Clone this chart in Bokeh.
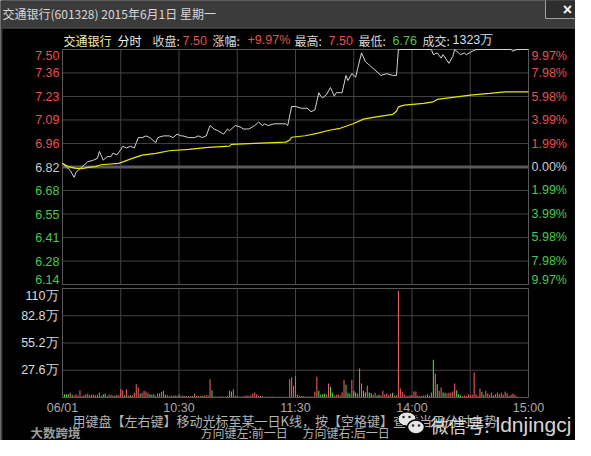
from bokeh.plotting import figure
from bokeh.models import Range1d, ColumnDataSource
from bokeh.embed import file_html
from bokeh.resources import INLINE
from bokeh.core.properties import value, field

# ---------------- data ----------------
title_text = "交通银行(601328) 2015年6月1日 星期一"
stock_name = "交通银行"
prev_close = 6.82
close_price = "7.50"
change_pct = "+9.97%"
high_price = "7.50"
low_price = "6.76"
turnover = "1323万"

# minute index (0 = 09:30, 120 = 11:30/13:00, 240 = 15:00) and price
price_minutes = [0, 2, 4, 6, 7, 9, 11, 13, 16, 18, 19, 21, 23, 25, 26, 28, 30, 31, 33, 35,
                 37, 38, 39, 41, 43, 45, 48, 49, 52, 55, 57, 59, 61, 62, 65, 68, 70, 72, 74, 76,
                 78, 80, 83, 85, 86, 89, 92, 93, 96, 99, 101, 103, 104, 106, 109, 111, 115, 116, 118, 120,
                 123, 126, 128, 130, 132, 133, 134, 136, 138, 140, 141, 144, 146, 147, 149, 151, 152, 154, 156, 158,
                 159, 162, 164, 167, 170, 172, 173, 190, 191, 193, 195, 196, 199, 201, 202, 203, 205, 207, 208, 211,
                 213, 231, 232, 234, 240]
price_values = [6.84, 6.82, 6.80, 6.76, 6.79, 6.81, 6.83, 6.85, 6.86, 6.87, 6.91, 6.86, 6.88, 6.88, 6.90, 6.89, 6.92, 6.94, 6.93, 6.94,
                6.93, 6.96, 6.99, 6.99, 7.00, 6.99, 6.96, 6.99, 7.00, 7.00, 6.99, 7.01, 7.00, 7.00, 6.99, 6.99, 7.00, 6.99, 7.00, 7.06,
                7.04, 7.03, 7.01, 7.04, 7.03, 7.06, 7.05, 7.04, 7.04, 7.06, 7.08, 7.06, 7.07, 7.06, 7.07, 7.07, 7.07, 7.06, 7.17, 7.17,
                7.16, 7.16, 7.14, 7.15, 7.25, 7.23, 7.22, 7.24, 7.28, 7.23, 7.25, 7.25, 7.35, 7.32, 7.36, 7.34, 7.39, 7.48, 7.43, 7.41,
                7.40, 7.37, 7.35, 7.36, 7.35, 7.35, 7.50, 7.50, 7.47, 7.48, 7.45, 7.47, 7.42, 7.46, 7.50, 7.49, 7.47, 7.48, 7.47, 7.49,
                7.50, 7.50, 7.49, 7.50, 7.50]

avg_minutes = [0, 3, 7, 10, 13, 17, 20, 29, 36, 41, 48, 55, 65, 75, 86, 87, 99, 115, 117, 118,
               125, 131, 138, 143, 150, 155, 160, 170, 172, 173, 176, 186, 191, 193, 201, 210, 220, 228, 240]
avg_values = [6.841, 6.822, 6.812, 6.810, 6.818, 6.822, 6.833, 6.841, 6.870, 6.889, 6.899, 6.914, 6.922, 6.934, 6.941, 6.951, 6.957, 6.964, 6.976, 6.992,
              7.001, 7.015, 7.034, 7.044, 7.072, 7.097, 7.107, 7.124, 7.143, 7.168, 7.178, 7.188, 7.197, 7.211, 7.223, 7.236, 7.246, 7.255, 7.255]

# volume per minute, in 万 (one value per minute 0..240)
volume = [5.1, 3.4, 3.4, 3.4, 4.7, 2.7, 1.7, 3.4, 2.0, 7.4,
          1.4, 2.0, 3.4, 3.7, 2.4, 3.0, 2.7, 2.4, 2.7, 5.1,
          1.7, 3.4, 3.7, 1.4, 2.7, 2.7, 2.0, 1.7, 2.7, 2.4,
          8.4, 7.4, 2.4, 8.4, 1.7, 2.4, 2.0, 4.7, 13.5, 10.1,
          4.1, 4.7, 6.8, 6.1, 4.7, 3.4, 2.7, 3.4, 1.7, 4.1,
          4.4, 5.7, 6.8, 2.7, 2.4, 1.4, 2.0, 1.4, 2.4, 1.7,
          2.7, 1.4, 2.0, 1.4, 1.4, 1.4, 1.4, 1.4, 4.1, 1.4,
          1.4, 1.4, 1.4, 2.0, 2.4, 2.0, 18.6, 7.4, 1.0, 1.0,
          1.0, 1.0, 1.0, 1.0, 1.0, 1.4, 6.8, 6.1, 8.4, 1.7,
          1.4, 1.0, 1.0, 1.0, 1.7, 2.0, 1.4, 2.4, 4.1, 5.1,
          3.4, 2.0, 1.4, 1.4, 0.8, 0.8, 0.8, 0.8, 1.0, 0.8,
          0.8, 0.7, 0.7, 0.7, 0.7, 0.7, 0.7, 18.6, 20.3, 11.8,
          21.7, 2.7, 1.7, 1.4, 1.4, 1.0, 1.0, 1.0, 1.0, 1.0,
          5.7, 20.9, 6.8, 2.7, 3.4, 4.1, 3.0, 14.2, 10.8, 4.7,
          1.7, 2.7, 3.4, 2.0, 5.4, 17.9, 12.8, 4.7, 3.7, 17.6,
          6.8, 5.1, 4.1, 29.4, 14.2, 6.8, 5.1, 11.8, 5.1, 4.4,
          2.7, 4.7, 2.0, 2.7, 2.0, 6.8, 3.4, 4.1, 2.7, 4.1,
          4.7, 2.0, 2.0, 108.0, 9.1, 5.7, 3.4, 2.0, 1.4, 2.4,
          2.4, 6.1, 6.1, 2.0, 1.4, 1.4, 2.0, 2.4, 3.4, 2.0,
          5.1, 38.2, 24.3, 13.5, 6.8, 10.1, 5.1, 4.7, 4.1, 4.7,
          5.1, 6.1, 14.2, 7.4, 3.4, 2.4, 1.4, 2.0, 1.4, 3.4,
          2.4, 2.7, 25.3, 3.4, 1.7, 8.8, 5.7, 2.7, 6.8, 4.1,
          2.7, 5.1, 2.4, 3.4, 5.1, 3.4, 4.7, 2.7, 6.1, 4.4,
          1.7, 2.7, 4.1, 2.7, 1.0, 0.0, 0.0, 0.0, 0.0, 0.0,
          0.0]
green_minutes = [1, 2, 3, 5, 11, 21, 22, 27, 32, 35, 40, 45, 46, 47, 53, 57, 60, 63, 67, 71,
                 77, 82, 87, 93, 103, 108, 132, 133, 134, 135, 138, 139, 146, 147, 148, 150, 151, 155, 156, 158,
                 159, 162, 163, 170, 191, 193, 196, 197, 203, 204, 205, 216]

pct_ticks = [9.97, 7.98, 5.98, 3.99, 1.99, 0.0, -1.99, -3.99, -5.98, -7.98, -9.97]
price_tick_labels = ["7.50", "7.36", "7.23", "7.09", "6.96", "6.82", "6.68", "6.55", "6.41", "6.28", "6.14"]
pct_tick_labels = ["9.97%", "7.98%", "5.98%", "3.99%", "1.99%", "0.00%", "1.99%", "3.99%", "5.98%", "7.98%", "9.97%"]
vol_max = 110.4
vol_ticks = [110.4, 82.8, 55.2, 27.6]
vol_tick_labels = ["110万", "82.8万", "55.2万", "27.6万"]
time_ticks = [0, 60, 120, 180, 240]
time_labels = ["06/01", "10:30", "11:30", "14:00", "15:00"]
session_minutes = 240
grid_minutes = [30, 60, 90, 120, 150, 180, 210]

footer_hint = "用键盘【左右键】移动光标至某一日K线，按【空格键】查看当日分时走势"
footer_left = "方向键左:前一日"
footer_right = "方向键右:后一日"
logo_text = "大数跨境"
watermark_cn = "微信号:"
watermark_id = "ldnjingcj"

# ---------------- layout / style ----------------
W, H = 575, 440
PX_L, PX_R = 62, 528            # horizontal extent of the panels (canvas px)
PRICE_TOP, PRICE_BOT = 49, 284  # price panel (canvas px from top)
VOL_TOP, VOL_BOT = 288, 397     # volume panel
BG = "#000000"
GRID = "#444444"
FRAME = "#585858"
RED = "#e8504f"
GREEN = "#4cc84c"
GRAY = "#c8c8c8"
NUM_FONT = value("Liberation Sans")
CJK_FONT = value("Noto Sans CJK SC")

lo = prev_close * (1 - 0.0997)
hi = prev_close * (1 + 0.0997)
tick_prices = [prev_close * (1 + t / 100.0) for t in pct_ticks]
tick_colors = [RED if t > 0 else (GRAY if t == 0 else GREEN) for t in pct_ticks]
n_ticks = len(pct_ticks)
edge_off = [6 if i == 0 else (-5 if i == n_ticks - 1 else 0) for i in range(n_ticks)]

# scales: minutes on x, price on the main y, volume on an extra y, pixels for decoration
mpp = session_minutes / (PX_R - PX_L)
x_rng = Range1d(-PX_L * mpp, (W - PX_L) * mpp)
ppp = (hi - lo) / (PRICE_BOT - PRICE_TOP)
y_rng = Range1d(lo - (H - PRICE_BOT) * ppp, hi + PRICE_TOP * ppp)
vpp = vol_max / (VOL_BOT - VOL_TOP)

p = figure(width=W, height=H, x_range=x_rng, y_range=y_rng,
           x_axis_location=None, y_axis_location=None, toolbar_location=None,
           output_backend="svg", title=None, min_border=0,
           background_fill_color=BG, border_fill_color=BG, outline_line_color=None)
p.grid.visible = False
p.extra_y_ranges = {"vol": Range1d(-(H - VOL_BOT) * vpp, VOL_BOT * vpp),
                    "py": Range1d(H, 0)}
p.extra_x_ranges = {"px": Range1d(0, W)}

# ---- title bar ----
p.quad(left=[0], right=[W], top=[-1], bottom=[27], fill_color="#3b3b3b", line_color=None,
       x_range_name="px", y_range_name="py")
p.segment(x0=[0], y0=[27.5], x1=[W], y1=[27.5], line_color="#6c6c6c", line_width=1,
          x_range_name="px", y_range_name="py")
p.segment(x0=[1], y0=[28], x1=[1], y1=[H], line_color="#3a3a3a", line_width=2,
          x_range_name="px", y_range_name="py")
p.quad(left=[545], right=[589], top=[-1], bottom=[18], fill_color="#2e2e2e", line_color="#a0a0a0",
       x_range_name="px", y_range_name="py")
p.text(x=[567], y=[9], text=["×"], text_font=NUM_FONT, text_font_size="16px", text_font_style="bold",
       text_color="#ffffff", text_align="center", text_baseline="middle",
       x_range_name="px", y_range_name="py")
p.text(x=[2], y=[13], text=[title_text], text_font=CJK_FONT, text_font_size="12px",
       text_color="#d8d8d8", text_baseline="middle", x_range_name="px", y_range_name="py")

# ---- header ----
hdr_cjk = ColumnDataSource(dict(
    x=[63, 117, 152, 212, 294, 358, 422],
    y=[39.5] * 7,
    text=[stock_name, "分时", "收盘:", "涨幅:", "最高:", "最低:", "成交:"],
    color=["#f0f0a8", "#f0f0f0", "#d8d8d8", "#d8d8d8", "#d8d8d8", "#d8d8d8", "#d8d8d8"]))
p.text(x="x", y="y", text="text", text_color=field("color"), source=hdr_cjk, text_font=CJK_FONT,
       text_font_size="12px", text_baseline="middle", x_range_name="px", y_range_name="py")
hdr_num = ColumnDataSource(dict(
    x=[182, 247, 328, 392, 452],
    y=[39.5] * 5,
    text=[close_price, change_pct, high_price, low_price, turnover],
    color=[RED, RED, RED, GREEN, "#d4dcec"]))
p.text(x="x", y="y", text="text", text_color=field("color"), source=hdr_num, text_font=NUM_FONT,
       text_font_size="12.5px", text_baseline="middle", x_range_name="px", y_range_name="py")

# ---- price panel ----
p.segment(x0=grid_minutes, y0=[lo] * len(grid_minutes), x1=grid_minutes, y1=[hi] * len(grid_minutes),
          line_color=GRID, line_width=1)
p.segment(x0=[0] * n_ticks, y0=tick_prices, x1=[session_minutes] * n_ticks, y1=tick_prices,
          line_color=GRID, line_width=1)
p.segment(x0=[0], y0=[prev_close], x1=[session_minutes], y1=[prev_close], line_color="#5a5a5a", line_width=3)
p.quad(left=[0], right=[session_minutes], bottom=[lo], top=[hi], fill_color=None, line_color=FRAME)

p.line(price_minutes, price_values, line_color="#d4d4d4", line_width=1)
p.line(avg_minutes, avg_values, line_color="#e8e800", line_width=1.2)

left_src = ColumnDataSource(dict(x=[0] * n_ticks, y=tick_prices, text=price_tick_labels,
                                 color=tick_colors, yoff=edge_off))
p.text(x="x", y="y", text="text", source=left_src, text_color=field("color"),
       text_font=NUM_FONT, text_font_size="12.5px", text_align="right",
       text_baseline="middle", x_offset=-3, y_offset=field("yoff"))
right_src = ColumnDataSource(dict(x=[session_minutes] * n_ticks, y=tick_prices, text=pct_tick_labels,
                                  color=tick_colors, yoff=edge_off))
p.text(x="x", y="y", text="text", source=right_src, text_color=field("color"),
       text_font=NUM_FONT, text_font_size="12.5px", text_align="left",
       text_baseline="middle", x_offset=3, y_offset=field("yoff"))

# ---- volume panel ----
p.segment(x0=grid_minutes, y0=[0] * len(grid_minutes), x1=grid_minutes, y1=[vol_max] * len(grid_minutes),
          line_color=GRID, line_width=1, y_range_name="vol")
inner_vol = vol_ticks[1:]
p.segment(x0=[0] * len(inner_vol), y0=inner_vol, x1=[session_minutes] * len(inner_vol), y1=inner_vol,
          line_color=GRID, line_width=1, y_range_name="vol")

minutes = list(range(len(volume)))
bar_colors = ["#52d452" if m in green_minutes else "#ec5f5f" for m in minutes]
vsrc = ColumnDataSource(dict(m=minutes, vol=volume, c=bar_colors))
p.vbar(x="m", top="vol", bottom=0, width=0.55, fill_color="c", line_color=None, source=vsrc,
       y_range_name="vol")
p.quad(left=[0], right=[session_minutes], bottom=[0], top=[vol_max], fill_color=None, line_color=FRAME,
       y_range_name="vol")

vol_src = ColumnDataSource(dict(x=[0] * len(vol_ticks), y=vol_ticks, text=vol_tick_labels,
                                yoff=[7] + [0] * (len(vol_ticks) - 1)))
p.text(x="x", y="y", text="text", source=vol_src, text_color="#dcdcdc",
       text_font=NUM_FONT, text_font_size="12.5px", text_align="right",
       text_baseline="middle", x_offset=-4, y_offset=field("yoff"), y_range_name="vol")

# time labels under the volume panel (x on the minute scale)
p.text(x=time_ticks, y=[407] * len(time_ticks), text=time_labels, text_color="#a8a8a8",
       text_font=NUM_FONT, text_font_size="12.5px", text_align="center", text_baseline="middle",
       y_range_name="py")

# ---- footer ----
p.text(x=[72], y=[419.5], text=[footer_hint], text_font=CJK_FONT, text_font_size="13px",
       text_color="#b4b4b4", text_baseline="middle", x_range_name="px", y_range_name="py")
p.text(x=[200, 302], y=[431.5, 431.5], text=[footer_left, footer_right], text_font=CJK_FONT,
       text_font_size="12px", text_color="#b4b4b4", text_baseline="middle",
       x_range_name="px", y_range_name="py")
p.text(x=[30], y=[431.5], text=[logo_text], text_font=CJK_FONT, text_font_size="12.5px",
       text_font_style="bold", text_color="#9c9c9c", text_baseline="middle",
       x_range_name="px", y_range_name="py")
# WeChat watermark
p.ellipse(x=[406.5], y=[418.5], width=[18], height=[14], fill_color="#e6e6e6", line_color="#000000",
          line_width=1, x_range_name="px", y_range_name="py")
p.ellipse(x=[415.5], y=[426.5], width=[17], height=[14], fill_color="#e6e6e6", line_color="#000000",
          line_width=1.5, x_range_name="px", y_range_name="py")
p.scatter(x=[403, 409, 412.5, 418.5], y=[416.5, 416.5, 425, 425], size=2.5, fill_color="#222222",
          line_color=None, x_range_name="px", y_range_name="py")
p.text(x=[430], y=[424], text=[watermark_cn], text_font=CJK_FONT, text_font_size="18px",
       text_color="#f2f2f2", text_alpha=0.9, text_baseline="middle", x_range_name="px", y_range_name="py")
p.text(x=[495], y=[424], text=[watermark_id], text_font=NUM_FONT, text_font_size="21px",
       text_color="#f2f2f2", text_alpha=0.9, text_baseline="middle", x_range_name="px", y_range_name="py")

open("out.html", "w").write(file_html(p, INLINE))
